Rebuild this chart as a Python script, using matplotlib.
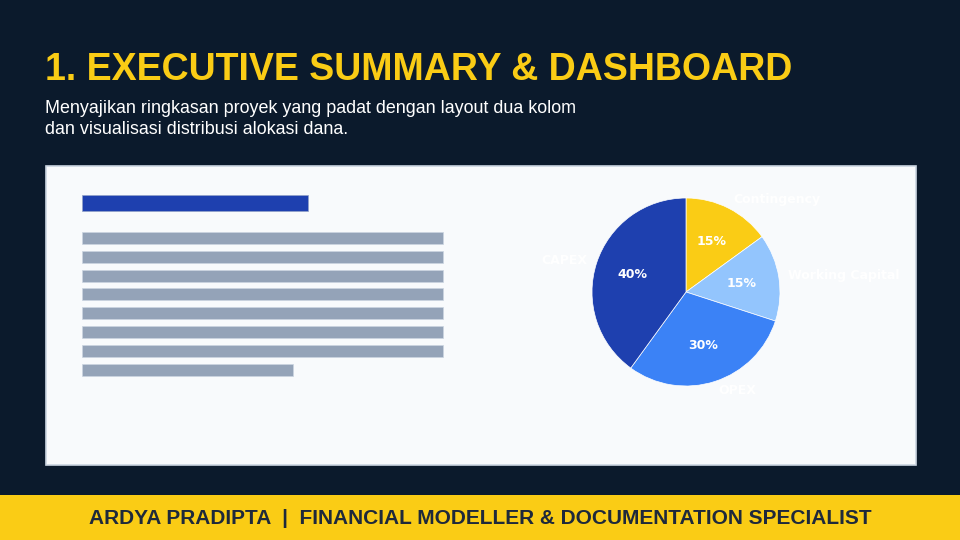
import matplotlib.pyplot as plt
from matplotlib.patches import Rectangle

# pie data
labels = ['Contingency', 'Working Capital', 'OPEX', 'CAPEX']
shares = [15, 15, 30, 40]
pie_colors = ['#facc15', '#93c5fd', '#3b82f6', '#1e40af']

# placeholder text lines (length in px) in the left column
heading_len = 226
line_lens = [361, 361, 361, 361, 361, 361, 361, 211]

title = '1. EXECUTIVE SUMMARY & DASHBOARD'
subtitle = ['Menyajikan ringkasan proyek yang padat dengan layout dua kolom',
            'dan visualisasi distribusi alokasi dana.']
footer = 'ARDYA PRADIPTA  |  FINANCIAL MODELLER & DOCUMENTATION SPECIALIST'

bg = '#0b1a2c'

fig = plt.figure(figsize=(9.6, 5.4), dpi=100, facecolor=bg)

# full-figure axes in pixel coords
ax = fig.add_axes([0, 0, 1, 1])
ax.set_xlim(0, 960)
ax.set_ylim(540, 0)
ax.axis('off')

ax.text(45, 80, title, color='#facc15', fontsize=27, fontweight='bold',
        family='Liberation Sans', va='baseline')
for i, line in enumerate(subtitle):
    ax.text(45, 113 + 21 * i, line, color='white', fontsize=12.9,
            family='Liberation Sans', va='baseline')

# panel
ax.add_patch(Rectangle((45.5, 165.5), 870, 299, facecolor='#f8fafc',
                       edgecolor='#cbd5e1', linewidth=1.2))

# heading bar + text lines
ax.barh(202.7, heading_len, left=82, height=16, color='#1e40af',
        edgecolor='#93a3c8', linewidth=0.5)
ys = [238 + 18.8 * i for i in range(len(line_lens))]
ax.barh(ys, line_lens, left=82, height=12, color='#94a3b8',
        edgecolor='#cbd5e1', linewidth=0.5)

# footer
ax.add_patch(Rectangle((0, 495), 960, 45, facecolor='#facc15', edgecolor='none'))
ax.text(480, 518, footer, color='#1e293b', fontsize=15, fontweight='bold',
        family='Liberation Sans', ha='center', va='center')

# pie
cx, cy, r = 686, 292, 94
pax = fig.add_axes([(cx - r) / 960, (540 - cy - r) / 540, 2 * r / 960, 2 * r / 540])
wedges, texts, autotexts = pax.pie(
    shares, labels=labels, colors=pie_colors, startangle=90, counterclock=False,
    autopct='%1.0f%%', pctdistance=0.6, labeldistance=1.1,
    wedgeprops=dict(edgecolor='white', linewidth=0.5),
    textprops=dict(color='white', fontsize=9, fontweight='bold'))
pax.set_aspect('equal')
pax.set_xlim(-1, 1)
pax.set_ylim(-1, 1)

fig.savefig('out.png', dpi=100, facecolor=bg)
